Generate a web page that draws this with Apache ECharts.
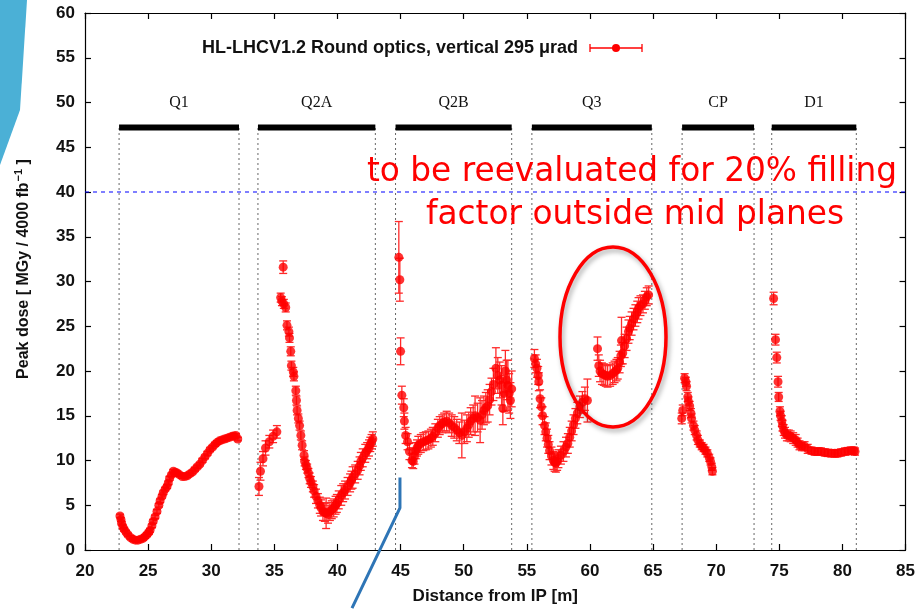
<!DOCTYPE html>
<html><head><meta charset="utf-8">
<script src="https://cdn.jsdelivr.net/npm/echarts@6/dist/echarts.min.js"></script>
<style>html,body{margin:0;padding:0;background:#fff}#c{width:918px;height:610px}</style>
</head><body><div id="c"></div>
<script>
// ---- axis settings ----
const xMin = 20, xMax = 85, xStep = 5;
const yMin = 0, yMax = 60, yStep = 5;

// ---- magnets ----
const magnetNames = ['Q1', 'Q2A', 'Q2B', 'Q3', 'CP', 'D1'];
const magnetStart = [22.7, 33.7, 44.6, 55.4, 67.3, 74.4];
const magnetEnd   = [32.2, 43.0, 53.8, 64.9, 73.0, 81.1];
const magnetBarLevel = 47.2;
const magnetLabelLevel = 50;
const limitLevel = 40;

// ---- peak dose [x (m), dose, error] ----
const doseQ1 = [
  [22.77,3.8,0.2],[22.85,3.4,0.2],[22.9,3.0,0.2],[23.0,2.6,0.2],[23.1,2.3,0.2],[23.25,2.0,0.2],
  [23.4,1.7,0.2],[23.6,1.4,0.2],[23.8,1.2,0.2],[24.0,1.1,0.2],[24.2,1.1,0.2],[24.4,1.2,0.2],
  [24.6,1.3,0.2],[24.75,1.5,0.2],[24.9,1.7,0.2],[25.05,1.95,0.2],[25.15,2.2,0.2],[25.3,2.7,0.2],
  [25.4,3.2,0.2],[25.55,3.7,0.2],[25.7,4.3,0.2],[25.85,5.0,0.2],[25.95,5.5,0.2],[26.1,6.0,0.2],
  [26.2,6.4,0.2],[26.35,6.8,0.2],[26.5,7.1,0.2],[26.6,7.5,0.2],[26.7,8.0,0.2],[26.85,8.4,0.2],
  [27.0,8.8,0.2],[27.15,8.7,0.2],[27.3,8.6,0.2],[27.5,8.4,0.2],[27.7,8.2,0.2],[27.9,8.2,0.2],
  [28.1,8.3,0.2],[28.3,8.5,0.2],[28.5,8.7,0.2],[28.7,9.0,0.2],[28.9,9.3,0.2],[29.1,9.6,0.2],
  [29.3,10.0,0.2],[29.5,10.4,0.2],[29.7,10.8,0.2],[29.9,11.2,0.2],[30.1,11.5,0.2],[30.3,11.8,0.2],
  [30.45,12.0,0.2],[30.65,12.2,0.2],[30.85,12.3,0.2],[31.05,12.4,0.2],[31.25,12.5,0.2],[31.45,12.6,0.2],
  [31.65,12.7,0.2],[31.8,12.75,0.2],[31.95,12.8,0.2],[32.1,12.4,0.2]
];
const doseQ2A = [
  [33.78,7.1,1.0],[33.9,8.8,1.0],[34.1,10.2,0.8],[34.3,11.4,0.8],[34.6,12.1,0.7],[34.9,12.7,0.7],
  [35.2,13.2,0.7],[35.7,31.6,0.7],[35.5,28.2,0.5],[35.6,27.8,0.5],[35.75,27.5,0.5],[35.9,27.1,0.5],
  [36.0,25.1,0.5],[36.15,24.4,0.5],[36.2,23.7,0.5],[36.3,22.2,0.5],[36.35,20.6,0.5],[36.5,19.9,0.5],
  [36.55,19.4,0.5],[36.7,17.8,0.5],[36.75,16.7,0.5],[36.8,15.6,0.5],[36.9,14.7,0.5],[37.0,13.9,0.5],
  [37.1,12.8,0.5],[37.2,11.7,0.5],[37.35,10.6,0.5],[37.4,9.9,0.5],[37.5,9.5,0.5],[37.6,9.1,0.5],
  [37.7,8.6,0.5],[37.8,8.0,0.6],[37.9,7.6,0.6],[38.05,7.1,0.6],[38.15,6.6,0.7],[38.3,6.0,0.8],
  [38.45,5.5,0.8],[38.6,5.0,0.9],[38.7,4.7,0.9],[38.85,4.3,1.0],[39.0,4.2,1.0],[39.1,4.1,1.7],
  [39.25,4.0,1.0],[39.4,4.3,1.0],[39.55,4.5,1.0],[39.7,4.7,1.0],[39.85,5.0,1.0],[39.95,5.2,1.0],
  [40.1,5.6,1.0],[40.3,6.1,1.1],[40.45,6.4,1.0],[40.6,6.7,1.0],[40.8,7.1,1.0],[41.0,7.5,1.0],
  [41.1,7.8,1.0],[41.2,8.1,1.2],[41.4,8.5,1.0],[41.6,8.9,1.0],[41.75,9.4,1.0],[41.85,9.9,1.0],
  [42.0,10.3,1.0],[42.2,10.8,1.0],[42.35,11.1,0.9],[42.5,11.4,0.9],[42.6,11.8,0.8],[42.7,12.1,0.8],
  [42.8,12.4,0.8]
];
const doseQ2B = [
  [44.86,32.7,4.0],[44.94,30.2,2.4],[45.0,22.2,1.5],[45.1,17.3,1.0],[45.25,15.9,1.0],[45.3,14.4,0.9],
  [45.4,12.8,0.9],[45.55,12.1,0.9],[45.7,11.0,0.9],[45.9,10.0,0.8],[46.0,9.9,0.8],[46.1,10.5,0.9],
  [46.2,11.1,0.9],[46.3,11.4,0.9],[46.4,11.7,1.0],[46.6,11.9,1.0],[46.8,12.1,1.0],[47.0,12.2,1.0],
  [47.2,12.3,1.0],[47.4,12.5,1.0],[47.55,12.7,1.0],[47.75,13.1,1.0],[47.95,13.6,1.0],[48.1,13.9,1.0],
  [48.3,14.1,1.0],[48.45,14.3,1.0],[48.65,14.4,1.1],[48.85,14.2,1.1],[49.05,13.9,1.2],[49.25,13.7,1.2],
  [49.45,13.4,1.2],[49.65,13.1,1.2],[49.85,12.8,2.5],[50.05,13.2,1.3],[50.25,13.6,1.5],[50.4,14.0,1.4],
  [50.55,14.4,1.5],[50.75,14.7,1.5],[50.9,15.0,2.2],[51.1,14.8,1.6],[51.3,14.5,2.5],[51.45,15.1,1.6],
  [51.6,15.6,1.6],[51.75,15.9,1.7],[51.9,16.1,1.8],[52.05,16.8,1.7],[52.2,17.7,1.5],[52.35,18.5,1.8],
  [52.55,20.3,2.3],[52.7,19.5,2.0],[52.85,19.0,2.0],[53.0,18.4,2.2],[53.1,15.8,1.8],[53.2,17.5,2.0],
  [53.3,20.0,2.3],[53.4,19.0,2.2],[53.5,18.4,2.8],[53.6,17.5,2.2],[53.7,16.7,2.0],[53.8,18.0,2.0]
];
const doseQ3 = [
  [55.6,21.4,1.0],[55.7,20.8,1.0],[55.8,20.3,1.0],[55.9,19.5,1.0],[55.95,18.8,1.0],[56.05,16.9,1.0],
  [56.15,16.0,1.0],[56.25,15.0,1.0],[56.4,13.9,1.0],[56.5,13.2,1.0],[56.6,12.5,1.0],[56.7,11.8,1.0],
  [56.8,11.1,1.0],[56.95,10.5,1.0],[57.1,10.0,1.0],[57.2,9.8,1.0],[57.3,9.7,1.0],[57.4,9.9,1.0],
  [57.5,10.2,1.0],[57.7,10.6,1.0],[57.9,11.0,1.1],[58.1,11.5,1.1],[58.25,11.9,1.1],[58.4,12.6,1.1],
  [58.55,13.3,1.1],[58.7,14.0,1.1],[58.85,14.7,1.1],[59.0,15.3,1.2],[59.2,16.0,1.2],[59.4,16.5,1.2],
  [59.6,16.9,1.3],[59.8,16.7,2.4],
  [60.6,22.5,1.3],[60.7,20.6,1.2],[60.8,20.0,1.2],[60.95,19.7,1.2],[61.1,19.6,1.2],[61.25,19.5,1.2],
  [61.4,19.4,1.2],[61.6,19.5,1.2],[61.8,19.7,1.2],[61.95,19.9,1.2],[62.1,20.1,1.2],[62.2,20.3,1.2],
  [62.35,21.0,1.2],[62.45,21.7,1.2],[62.5,23.4,2.6],[62.6,22.0,1.2],[62.75,22.8,1.3],[62.9,23.6,1.3],
  [63.05,24.4,1.3],[63.15,24.8,1.3],[63.3,25.3,1.3],[63.45,25.8,1.2],[63.6,26.2,1.2],[63.75,26.6,1.2],
  [63.85,27.0,1.2],[64.0,27.3,1.1],[64.2,27.5,1.0],[64.35,27.9,1.0],[64.5,28.3,1.0],[64.65,28.5,1.0]
];
const doseCP = [
  [67.27,14.7,0.6],[67.35,15.6,0.6],[67.5,19.2,0.5],[67.6,18.8,0.5],[67.65,18.3,0.5],[67.75,17.1,0.5],
  [67.8,16.6,0.5],[67.9,16.1,0.5],[68.0,15.3,0.5],[68.05,14.7,0.5],[68.2,13.9,0.5],[68.3,13.4,0.5],
  [68.45,12.8,0.5],[68.55,12.3,0.5],[68.7,11.9,0.4],[68.85,11.6,0.4],[69.0,11.4,0.4],[69.15,11.1,0.4],
  [69.3,10.8,0.4],[69.45,10.3,0.4],[69.55,9.9,0.4],[69.65,9.3,0.4],[69.7,8.8,0.4]
];
const doseD1 = [
  [74.55,28.1,0.7],[74.7,23.5,0.6],[74.8,21.5,0.6],[74.9,18.8,0.6],[74.95,17.1,0.5],[75.05,15.5,0.5],
  [75.1,15.0,0.5],[75.2,14.4,0.6],[75.25,13.9,0.6],[75.35,13.4,0.6],[75.45,13.1,0.6],[75.6,12.8,0.6],
  [75.75,12.8,0.6],[75.9,12.7,0.6],[76.1,12.5,0.6],[76.3,12.3,0.6],[76.45,12.0,0.5],[76.6,11.7,0.5],
  [76.8,11.6,0.5],[77.0,11.6,0.5],[77.25,11.3,0.5],[77.55,11.1,0.4],[77.8,11.0,0.4],[78.05,11.0,0.4],
  [78.3,11.0,0.4],[78.6,10.9,0.4],[78.85,10.85,0.4],[79.15,10.8,0.4],[79.4,10.8,0.4],[79.6,10.8,0.4],
  [79.9,10.9,0.4],[80.2,11.0,0.4],[80.45,11.05,0.4],[80.7,11.1,0.4],[80.9,11.1,0.4],[81.0,11.0,0.4]
];

const legendText = 'HL-LHCV1.2 Round optics, vertical 295 \u03bcrad';
const noteLine1 = 'to be reevaluated for 20% filling';
const noteLine2 = 'factor outside mid planes';
// blue pointer polyline (annotation, axis units)
const pointerPath = [[44.95, 8.1], [44.95, 4.7], [41.15, -6.5]];

const dose = [].concat(doseQ1, doseQ2A, doseQ2B, doseQ3, doseCP, doseD1);
const magnets = magnetNames.map((n, i) => [magnetStart[i], magnetEnd[i], i]);

const RED = '#ff0000';
const SANS = '"Liberation Sans", Arial, sans-serif';
const chart = echarts.init(document.getElementById('c'), null, {renderer: 'canvas'});

function errRender(params, api) {
  const x = api.value(0), y = api.value(1), e = api.value(2);
  const t = api.coord([x, y + e]), b = api.coord([x, y - e]);
  const hw = 4;
  const st = {stroke: '#ff2a2a', lineWidth: 1.3};
  return {type: 'group', children: [
    {type: 'line', shape: {x1: t[0], y1: t[1], x2: b[0], y2: b[1]}, style: st},
    {type: 'line', shape: {x1: t[0] - hw, y1: t[1], x2: t[0] + hw, y2: t[1]}, style: st},
    {type: 'line', shape: {x1: b[0] - hw, y1: b[1], x2: b[0] + hw, y2: b[1]}, style: st}
  ]};
}

function magnetRender(params, api) {
  const s = api.value(0), e = api.value(1), i = api.value(2);
  const a = api.coord([s, magnetBarLevel]), b = api.coord([e, magnetBarLevel]);
  const a0 = api.coord([s, 0]), b0 = api.coord([e, 0]);
  const lab = api.coord([(s + e) / 2, magnetLabelLevel]);
  const dot = {stroke: '#666', lineWidth: 1, lineDash: [2, 3]};
  return {type: 'group', children: [
    {type: 'line', shape: {x1: a[0], y1: a0[1], x2: a[0], y2: a[1]}, style: dot},
    {type: 'line', shape: {x1: b[0], y1: b0[1], x2: b[0], y2: b[1]}, style: dot},
    {type: 'rect', shape: {x: a[0], y: a[1] - 3, width: b[0] - a[0], height: 6}, style: {fill: '#000'}},
    {type: 'text', x: lab[0], y: lab[1], style: {text: magnetNames[i], fill: '#111',
      font: '16px "Liberation Serif", "DejaVu Serif", serif', align: 'center', verticalAlign: 'middle'}}
  ]};
}

const tickFont = {fontFamily: SANS, fontWeight: 'bold', fontSize: 17, color: '#111'};

chart.setOption({
  animation: false,
  backgroundColor: '#fff',
  grid: {left: 85, right: 12, top: 13, bottom: 58, show: false},
  xAxis: [
    {type: 'value', min: xMin, max: xMax, interval: xStep, position: 'bottom',
     name: 'Distance from IP [m]', nameLocation: 'middle', nameGap: 38,
     nameTextStyle: {fontFamily: SANS, fontWeight: 'bold', fontSize: 17, color: '#111'},
     axisLine: {onZero: false, lineStyle: {color: '#000', width: 1.2}},
     axisTick: {inside: true, length: 6, lineStyle: {color: '#000', width: 1.2}},
     axisLabel: Object.assign({margin: 13}, tickFont), splitLine: {show: false}},
    {type: 'value', min: xMin, max: xMax, interval: xStep, position: 'top',
     axisLine: {onZero: false, lineStyle: {color: '#000', width: 1.2}},
     axisTick: {inside: true, length: 6, lineStyle: {color: '#000', width: 1.2}},
     axisLabel: {show: false}, splitLine: {show: false}}
  ],
  yAxis: [
    {type: 'value', min: yMin, max: yMax, interval: yStep, position: 'left',
     axisLine: {onZero: false, lineStyle: {color: '#000', width: 1.2}},
     axisTick: {inside: true, length: 6, lineStyle: {color: '#000', width: 1.2}},
     axisLabel: Object.assign({margin: 10}, tickFont), splitLine: {show: false}},
    {type: 'value', min: yMin, max: yMax, interval: yStep, position: 'right',
     axisLine: {onZero: false, lineStyle: {color: '#000', width: 1.2}},
     axisTick: {inside: true, length: 6, lineStyle: {color: '#000', width: 1.2}},
     axisLabel: {show: false}, splitLine: {show: false}}
  ],
  series: [
    {type: 'custom', name: 'magnets', data: magnets, renderItem: magnetRender, clip: false, z: 1, silent: true},
    {type: 'line', name: 'limit', data: [[xMin, limitLevel], [xMax, limitLevel]], symbol: 'none', z: 2,
     lineStyle: {color: '#0000ff', width: 1, type: [4, 4]}, silent: true},
    {type: 'custom', name: 'err', data: dose, renderItem: errRender, z: 3, silent: true},
    {type: 'scatter', name: 'dose', data: dose.map(d => [d[0], d[1]]), symbol: 'circle', symbolSize: 9,
     itemStyle: {color: RED}, z: 4, silent: true},
    {type: 'line', name: 'pointer', data: pointerPath, symbol: 'none', clip: false, z: 6,
     lineStyle: {color: '#2e75b6', width: 3}, silent: true}
  ],
  graphic: [
    {type: 'polygon', shape: {points: [[0, 0], [27, 0], [20, 110], [0, 165]]}, style: {fill: '#4bb0d6'}, z: 0},
    {type: 'text', x: 24, y: 269, rotation: Math.PI / 2, style: {
      text: '{n|Peak dose [ MGy / 4000 fb}{s|\u22121}{n| ]}', align: 'center', verticalAlign: 'middle',
      rich: {
        n: {fontFamily: SANS, fontWeight: 'bold', fontSize: 16, fill: '#111'},
        s: {fontFamily: SANS, fontWeight: 'bold', fontSize: 11, fill: '#111', padding: [0, 0, 10, 1]}
      }}},
    {type: 'text', x: 578, y: 48, style: {text: legendText, align: 'right', verticalAlign: 'middle',
      font: 'bold 18px ' + SANS, fill: '#111'}},
    {type: 'line', shape: {x1: 590, y1: 48, x2: 642, y2: 48}, style: {stroke: RED, lineWidth: 1.3}},
    {type: 'line', shape: {x1: 590, y1: 44, x2: 590, y2: 52}, style: {stroke: RED, lineWidth: 1.3}},
    {type: 'line', shape: {x1: 642, y1: 44, x2: 642, y2: 52}, style: {stroke: RED, lineWidth: 1.3}},
    {type: 'circle', shape: {cx: 616, cy: 48, r: 4}, style: {fill: RED}},
    {type: 'text', x: 632, y: 172, z: 10, style: {text: noteLine1, align: 'center', verticalAlign: 'middle',
      font: '32.8px "DejaVu Sans", sans-serif', fill: RED}},
    {type: 'text', x: 635, y: 215, z: 10, style: {text: noteLine2, align: 'center', verticalAlign: 'middle',
      font: '32.8px "DejaVu Sans", sans-serif', fill: RED}},
    {type: 'ellipse', shape: {cx: 613, cy: 337, rx: 53, ry: 90}, z: 10,
     style: {fill: 'none', stroke: RED, lineWidth: 3.5, shadowBlur: 5, shadowColor: 'rgba(0,0,0,0.35)', shadowOffsetX: 2, shadowOffsetY: 3}}
  ]
});
</script></body></html>
